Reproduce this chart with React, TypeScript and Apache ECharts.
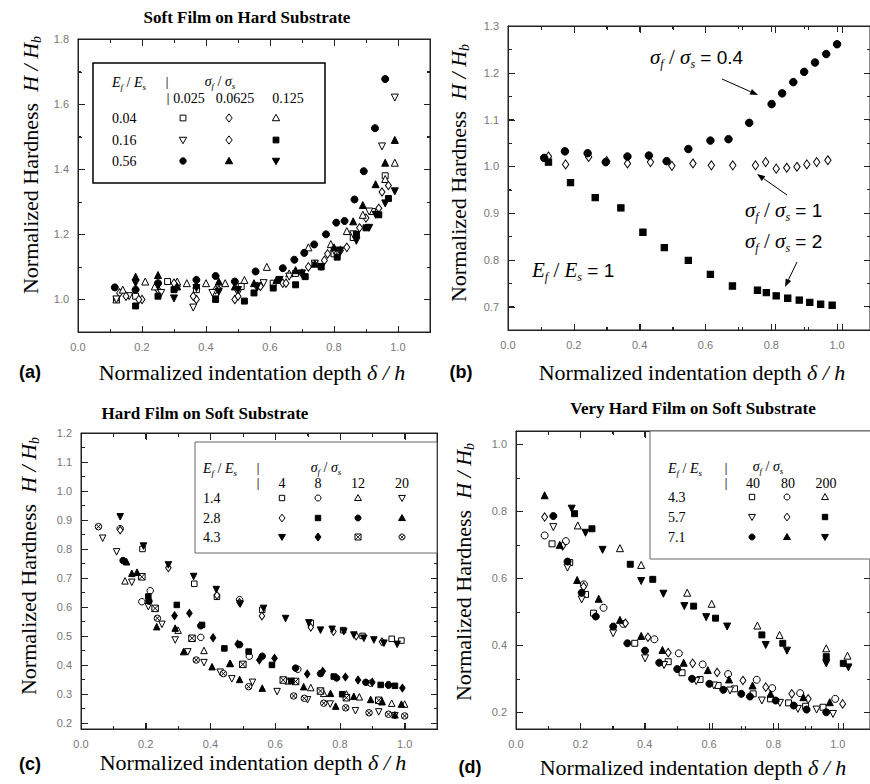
import React, { useEffect, useRef } from 'react';
import * as echarts from 'echarts';

const SERIF = "'Liberation Serif', 'Times New Roman', serif";
const SANS = "'Liberation Sans', Arial, sans-serif";

// ---------- tick values ----------
const xLabels = [0, 0.2, 0.4, 0.6, 0.8, 1.0];
const xMinor = [0.1, 0.3, 0.5, 0.7, 0.9, 1.1];
const aYLabels = [1.0, 1.2, 1.4, 1.6, 1.8];
const aYMinor = [1.1, 1.3, 1.5, 1.7];
const bYLabels = [0.7, 0.8, 0.9, 1.0, 1.1, 1.2, 1.3];
const bYMinor = [0.75, 0.85, 0.95, 1.05, 1.15, 1.25];
const cYLabels = [0.2, 0.3, 0.4, 0.5, 0.6, 0.7, 0.8, 0.9, 1.0, 1.1, 1.2];
const cYMinor = [0.25, 0.35, 0.45, 0.55, 0.65, 0.75, 0.85, 0.95, 1.05, 1.15];
const dYLabels = [0.2, 0.4, 0.6, 0.8, 1.0];
const dYMinor = [0.3, 0.5, 0.7, 0.9];

// ---------- panel (a): soft film on hard substrate ----------
const aSq004_0025 = [[0.12, 1.0], [0.18, 1.01], [0.28, 1.055], [0.37, 1.03], [0.43, 1.02], [0.51, 1.04], [0.61, 1.05], [0.68, 1.08], [0.74, 1.11], [0.8, 1.14], [0.86, 1.19], [0.92, 1.27], [0.96, 1.38]];
const aDia004_00625 = [[0.13, 1.02], [0.2, 1.0], [0.25, 1.03], [0.31, 1.04], [0.37, 1.0], [0.43, 1.03], [0.49, 1.0], [0.56, 1.04], [0.64, 1.05], [0.72, 1.1], [0.78, 1.14], [0.84, 1.16], [0.9, 1.25], [0.95, 1.33]];
const aTri004_0125 = [[0.12, 1.0], [0.14, 1.03], [0.21, 1.055], [0.24, 1.04], [0.31, 1.055], [0.34, 1.05], [0.4, 1.05], [0.46, 1.05], [0.52, 1.06], [0.59, 1.1], [0.66, 1.08], [0.72, 1.16], [0.79, 1.17], [0.84, 1.21], [0.89, 1.26], [0.96, 1.37], [0.99, 1.42]];
const aDtri016_0025 = [[0.12, 1.0], [0.16, 1.01], [0.26, 1.02], [0.36, 0.975], [0.42, 1.02], [0.5, 1.02], [0.58, 1.05], [0.66, 1.07], [0.74, 1.11], [0.8, 1.15], [0.86, 1.2], [0.91, 1.27], [0.95, 1.47], [0.99, 1.62]];
const aDia016_00625 = [[0.15, 1.01], [0.19, 1.0], [0.3, 1.05], [0.36, 1.01], [0.44, 1.03], [0.5, 1.01], [0.57, 1.04], [0.65, 1.05], [0.7, 1.08], [0.77, 1.12], [0.82, 1.15], [0.88, 1.22], [0.94, 1.28], [0.97, 1.35]];
const aSqF016_0125 = [[0.18, 0.98], [0.25, 1.01], [0.3, 1.03], [0.43, 1.0], [0.52, 0.995], [0.55, 1.02], [0.61, 1.035], [0.68, 1.045], [0.71, 1.07], [0.76, 1.1], [0.81, 1.13], [0.87, 1.2], [0.9, 1.22], [0.94, 1.26], [0.97, 1.31]];
const aCiF056_0025 = [[0.115, 1.037], [0.18, 1.03], [0.25, 1.05], [0.37, 1.06], [0.43, 1.072], [0.49, 1.055], [0.555, 1.086], [0.64, 1.096], [0.676, 1.122], [0.707, 1.143], [0.738, 1.169], [0.775, 1.2], [0.807, 1.236], [0.833, 1.241], [0.864, 1.307], [0.893, 1.394], [0.928, 1.526], [0.96, 1.677]];
const aTriF056_00625 = [[0.18, 1.07], [0.25, 1.075], [0.31, 1.04], [0.37, 1.045], [0.44, 1.055], [0.49, 1.04], [0.55, 1.05], [0.62, 1.06], [0.68, 1.09], [0.74, 1.11], [0.8, 1.16], [0.86, 1.24], [0.89, 1.29], [0.93, 1.354], [0.96, 1.42], [0.99, 1.49]];
const aDtriF056_0125 = [[0.18, 1.05], [0.25, 1.04], [0.3, 1.003], [0.37, 1.035], [0.44, 1.024], [0.5, 1.029], [0.56, 1.04], [0.63, 1.06], [0.7, 1.08], [0.76, 1.1], [0.82, 1.15], [0.87, 1.18], [0.91, 1.22], [0.93, 1.26], [0.96, 1.295], [0.99, 1.332]];

// ---------- panel (b): Ef/Es = 1 ----------
const bRatio04 = [[0.11, 1.018], [0.173, 1.032], [0.242, 1.028], [0.297, 1.009], [0.363, 1.021], [0.428, 1.023], [0.482, 1.011], [0.548, 1.037], [0.615, 1.055], [0.67, 1.058], [0.733, 1.093], [0.801, 1.133], [0.833, 1.156], [0.867, 1.18], [0.9, 1.202], [0.933, 1.222], [0.967, 1.24], [1.0, 1.261]];
const bRatio1 = [[0.123, 1.021], [0.175, 1.004], [0.245, 1.02], [0.3, 1.011], [0.363, 1.006], [0.433, 1.009], [0.498, 1.001], [0.562, 1.006], [0.618, 1.002], [0.683, 1.002], [0.752, 1.002], [0.783, 1.009], [0.815, 0.995], [0.847, 0.997], [0.878, 0.999], [0.908, 1.004], [0.938, 1.009], [0.972, 1.013]];
const bRatio2 = [[0.123, 1.009], [0.19, 0.965], [0.265, 0.933], [0.343, 0.911], [0.41, 0.859], [0.475, 0.826], [0.548, 0.799], [0.615, 0.769], [0.682, 0.744], [0.758, 0.735], [0.785, 0.73], [0.815, 0.723], [0.85, 0.718], [0.885, 0.714], [0.917, 0.709], [0.95, 0.705], [0.985, 0.703]];

// ---------- panel (c): hard film on soft substrate ----------
const cSq14_4 = [[0.19, 0.8], [0.35, 0.68], [0.42, 0.635], [0.56, 0.59], [0.71, 0.545], [0.81, 0.52], [0.87, 0.5], [0.96, 0.49], [0.99, 0.484]];
const cCi14_8 = [[0.121, 0.87], [0.214, 0.656], [0.188, 0.618], [0.37, 0.495], [0.49, 0.625], [0.52, 0.43], [0.67, 0.385], [0.895, 0.337], [0.95, 0.332]];
const cTri14_12 = [[0.136, 0.69], [0.3, 0.52], [0.38, 0.45], [0.46, 0.405], [0.64, 0.345], [0.71, 0.322], [0.75, 0.302], [0.82, 0.3], [0.86, 0.29], [0.93, 0.275], [0.96, 0.268], [1.0, 0.265]];
const cDtri14_20 = [[0.067, 0.837], [0.11, 0.79], [0.157, 0.685], [0.208, 0.601], [0.25, 0.54], [0.291, 0.486], [0.33, 0.445], [0.38, 0.408], [0.43, 0.375], [0.466, 0.352], [0.53, 0.34], [0.606, 0.308], [0.7, 0.28], [0.77, 0.265], [0.848, 0.242], [0.92, 0.238], [0.97, 0.225]];
const cDia28_4 = [[0.121, 0.865], [0.27, 0.735], [0.42, 0.64], [0.49, 0.615], [0.559, 0.569], [0.71, 0.53], [0.78, 0.515], [0.85, 0.5], [0.93, 0.48]];
const cSqF28_8 = [[0.208, 0.636], [0.296, 0.607], [0.374, 0.538], [0.443, 0.457], [0.518, 0.446], [0.59, 0.4], [0.65, 0.345], [0.781, 0.36], [0.807, 0.299], [0.926, 0.331], [0.97, 0.328]];
const cCiF28_12 = [[0.13, 0.76], [0.21, 0.62], [0.37, 0.535], [0.49, 0.47], [0.56, 0.43], [0.663, 0.389], [0.74, 0.37], [0.79, 0.355], [0.88, 0.34], [0.95, 0.33]];
const cTriF28_20 = [[0.141, 0.756], [0.157, 0.716], [0.173, 0.72], [0.234, 0.532], [0.291, 0.527], [0.317, 0.446], [0.405, 0.394], [0.461, 0.406], [0.49, 0.35], [0.56, 0.32], [0.688, 0.325], [0.771, 0.302], [0.787, 0.258], [0.843, 0.292], [0.895, 0.281], [0.93, 0.273], [0.97, 0.228], [0.99, 0.265]];
const cDtriF43_4 = [[0.121, 0.911], [0.193, 0.81], [0.27, 0.745], [0.348, 0.705], [0.418, 0.66], [0.492, 0.61], [0.564, 0.595], [0.632, 0.56], [0.704, 0.545], [0.74, 0.52], [0.776, 0.523], [0.812, 0.515], [0.843, 0.503], [0.874, 0.492], [0.905, 0.486], [0.936, 0.475], [0.977, 0.471]];
const cDiaF43_8 = [[0.289, 0.57], [0.335, 0.578], [0.408, 0.494], [0.484, 0.472], [0.551, 0.417], [0.598, 0.423], [0.699, 0.369], [0.747, 0.378], [0.817, 0.358], [0.856, 0.348], [0.9, 0.34], [0.993, 0.32]];
const cXsq43_12 = [[0.188, 0.704], [0.229, 0.595], [0.343, 0.492], [0.5, 0.402], [0.625, 0.348], [0.663, 0.343], [0.74, 0.31], [0.82, 0.287], [0.92, 0.278]];
const cXci43_20 = [[0.054, 0.877], [0.236, 0.561], [0.356, 0.417], [0.44, 0.37], [0.518, 0.325], [0.657, 0.293], [0.69, 0.285], [0.75, 0.268], [0.818, 0.252], [0.89, 0.235], [0.95, 0.23], [1.0, 0.224]];

// ---------- panel (d): very hard film on soft substrate ----------
const dSq43_40 = [[0.112, 0.703], [0.167, 0.647], [0.216, 0.552], [0.241, 0.496], [0.369, 0.406], [0.473, 0.351], [0.516, 0.318], [0.572, 0.298], [0.628, 0.28], [0.679, 0.27], [0.737, 0.255], [0.791, 0.24], [0.847, 0.228], [0.9, 0.218], [0.954, 0.215]];
const dCi43_80 = [[0.089, 0.728], [0.155, 0.711], [0.211, 0.582], [0.272, 0.512], [0.333, 0.464], [0.43, 0.418], [0.506, 0.376], [0.58, 0.343], [0.659, 0.314], [0.748, 0.297], [0.796, 0.272], [0.883, 0.257], [0.992, 0.24]];
const dTri43_200 = [[0.192, 0.758], [0.323, 0.69], [0.389, 0.64], [0.532, 0.557], [0.608, 0.524], [0.75, 0.459], [0.819, 0.431], [0.964, 0.391], [1.03, 0.369]];
const dDtri57_40 = [[0.116, 0.753], [0.16, 0.632], [0.204, 0.537], [0.302, 0.436], [0.401, 0.361], [0.46, 0.341], [0.56, 0.293], [0.615, 0.28], [0.665, 0.265], [0.764, 0.235], [0.82, 0.228], [0.876, 0.21], [0.934, 0.208], [0.985, 0.195]];
const dDia57_80 = [[0.089, 0.783], [0.145, 0.697], [0.21, 0.575], [0.34, 0.466], [0.41, 0.424], [0.473, 0.378], [0.549, 0.346], [0.625, 0.319], [0.705, 0.295], [0.776, 0.275], [0.857, 0.255], [0.908, 0.24], [1.015, 0.225]];
const dSqF57_200 = [[0.182, 0.793], [0.236, 0.748], [0.355, 0.642], [0.425, 0.597], [0.552, 0.517], [0.62, 0.481], [0.764, 0.431], [0.829, 0.406], [0.964, 0.366], [1.017, 0.346]];
const dCiF71_40 = [[0.116, 0.786], [0.16, 0.65], [0.204, 0.557], [0.248, 0.486], [0.302, 0.456], [0.346, 0.406], [0.401, 0.384], [0.445, 0.348], [0.501, 0.329], [0.547, 0.3], [0.601, 0.285], [0.644, 0.267], [0.7, 0.255], [0.727, 0.247], [0.807, 0.235], [0.863, 0.22], [0.903, 0.208], [0.964, 0.2]];
const dTriF71_80 = [[0.089, 0.848], [0.136, 0.7], [0.19, 0.595], [0.257, 0.539], [0.323, 0.476], [0.389, 0.428], [0.455, 0.386], [0.521, 0.348], [0.596, 0.326], [0.662, 0.298], [0.735, 0.28], [0.791, 0.255], [0.893, 0.245], [0.975, 0.23]];
const dDtriF71_200 = [[0.173, 0.808], [0.216, 0.736], [0.269, 0.685], [0.389, 0.592], [0.458, 0.554], [0.523, 0.517], [0.591, 0.484], [0.656, 0.456], [0.776, 0.401], [0.842, 0.384], [0.964, 0.346], [1.033, 0.334]];

// ---------- symbols ----------
const SYM: Record<string, string> = {
  sq: 'rect',
  ci: 'circle',
  tri: 'triangle',
  dtri: 'triangle',
  dia: 'diamond',
  xsq: 'path://M0 0H10V10H0Z M0 0L10 10 M10 0L0 10',
  xci: 'path://M10 5A5 5 0 1 1 0 5A5 5 0 1 1 10 5Z M1.6 1.6L8.4 8.4 M8.4 1.6L1.6 8.4',
};

function scatter(data: number[][], kind: string, filled: boolean, size: number) {
  let symbolSize: any = size;
  if (kind === 'dia') symbolSize = [size * 0.85, size * 1.2];
  if (kind === 'sq') symbolSize = size * 0.85;
  return {
    type: 'scatter',
    xAxisIndex: 0,
    yAxisIndex: 0,
    data,
    symbol: SYM[kind],
    symbolRotate: kind === 'dtri' ? 180 : 0,
    symbolSize,
    itemStyle: { color: filled ? '#000' : '#fff', borderColor: '#000', borderWidth: 1, opacity: 1 },
  };
}

function mkAxis(pos: string, min: number, max: number, ticks: number[], len: number, labels: number[] | null, lineShow: boolean) {
  return {
    type: 'value',
    gridIndex: 0,
    position: pos,
    min,
    max,
    axisLine: { show: lineShow, onZero: false, lineStyle: { color: '#222', width: 1 } },
    axisTick: { show: true, inside: true, length: len, customValues: ticks, lineStyle: { color: '#222', width: 1 } },
    axisLabel: labels
      ? { show: true, customValues: labels, formatter: (v: number) => v.toFixed(1), color: '#777', fontSize: 11, fontFamily: SANS, margin: 9 }
      : { show: false },
    splitLine: { show: false },
  };
}

const PANELS = [
  {
    grid: { left: 78, top: 39, width: 352, height: 293 },
    y: { min: 0.9, max: 1.8, labels: aYLabels, minor: aYMinor },
    series: [
      scatter(aSq004_0025, 'sq', false, 7),
      scatter(aDia004_00625, 'dia', false, 7),
      scatter(aTri004_0125, 'tri', false, 7),
      scatter(aDtri016_0025, 'dtri', false, 7),
      scatter(aDia016_00625, 'dia', false, 7),
      scatter(aSqF016_0125, 'sq', true, 7),
      scatter(aCiF056_0025, 'ci', true, 7),
      scatter(aTriF056_00625, 'tri', true, 7),
      scatter(aDtriF056_0125, 'dtri', true, 7),
    ],
  },
  {
    grid: { left: 508, top: 26, width: 367, height: 304 },
    y: { min: 0.65, max: 1.3, labels: bYLabels, minor: bYMinor },
    series: [
      scatter(bRatio1, 'dia', false, 7.5),
      scatter(bRatio2, 'sq', true, 7.5),
      scatter(bRatio04, 'ci', true, 7.5),
    ],
  },
  {
    grid: { left: 81, top: 433, width: 356, height: 296 },
    y: { min: 0.179, max: 1.2, labels: cYLabels, minor: cYMinor },
    series: [
      scatter(cSq14_4, 'sq', false, 6.5),
      scatter(cCi14_8, 'ci', false, 6.5),
      scatter(cTri14_12, 'tri', false, 6.5),
      scatter(cDtri14_20, 'dtri', false, 6.5),
      scatter(cDia28_4, 'dia', false, 6.5),
      scatter(cXsq43_12, 'xsq', false, 6.5),
      scatter(cXci43_20, 'xci', false, 6.5),
      scatter(cSqF28_8, 'sq', true, 6.5),
      scatter(cCiF28_12, 'ci', true, 6.5),
      scatter(cTriF28_20, 'tri', true, 6.5),
      scatter(cDtriF43_4, 'dtri', true, 6.5),
      scatter(cDiaF43_8, 'dia', true, 6.5),
    ],
  },
  {
    grid: { left: 516, top: 431, width: 360, height: 298 },
    y: { min: 0.15, max: 1.04, labels: dYLabels, minor: dYMinor },
    series: [
      scatter(dSq43_40, 'sq', false, 7),
      scatter(dCi43_80, 'ci', false, 7),
      scatter(dTri43_200, 'tri', false, 7),
      scatter(dDtri57_40, 'dtri', false, 7),
      scatter(dDia57_80, 'dia', false, 7),
      scatter(dSqF57_200, 'sq', true, 7),
      scatter(dCiF71_40, 'ci', true, 7),
      scatter(dTriF71_80, 'tri', true, 7),
      scatter(dDtriF71_200, 'dtri', true, 7),
    ],
  },
];

function panelOption(i: number) {
  const p = PANELS[i];
  const yd = p.y;
  return {
    animation: false,
    grid: [{ ...p.grid, show: true, borderColor: '#222', borderWidth: 1, backgroundColor: 'transparent' }],
    xAxis: [
      mkAxis('bottom', 0, 1.1, xLabels, 6, xLabels, true),
      mkAxis('bottom', 0, 1.1, xMinor, 3, null, false),
      mkAxis('top', 0, 1.1, xLabels, 6, null, true),
      mkAxis('top', 0, 1.1, xMinor, 3, null, false),
    ],
    yAxis: [
      mkAxis('left', yd.min, yd.max, yd.labels, 6, yd.labels, true),
      mkAxis('left', yd.min, yd.max, yd.minor, 3, null, false),
      mkAxis('right', yd.min, yd.max, yd.labels, 6, null, true),
      mkAxis('right', yd.min, yd.max, yd.minor, 3, null, false),
    ],
    series: p.series,
  };
}

// frame and inward ticks as thin filled bars, placed through the panel's own axis scales
function frameElements(chart: any, i: number) {
  const p = PANELS[i];
  const yd = p.y;
  const gr = p.grid;
  const manual = (x: number, y: number) => [gr.left + (x / 1.1) * gr.width, gr.top + ((yd.max - y) / (yd.max - yd.min)) * gr.height];
  const px = (x: number, y: number): number[] => {
    try {
      const r = chart.convertToPixel({ xAxisIndex: 0, yAxisIndex: 0 }, [x, y]);
      if (r && isFinite(r[0]) && isFinite(r[1]) && Math.abs(r[0] - manual(x, y)[0]) < 3 && Math.abs(r[1] - manual(x, y)[1]) < 3) return r;
    } catch (e) {
      // fall through
    }
    return manual(x, y);
  };
  const bl = px(0, yd.min);
  const tr = px(1.1, yd.max);
  const L = Math.round(bl[0]), B = Math.round(bl[1]), R = Math.round(tr[0]), T = Math.round(tr[1]);
  const fill = { fill: '#222' };
  const bar = (x: number, y: number, w: number, h: number) => ({ type: 'rect', z: 50, shape: { x, y, width: w, height: h }, style: { ...fill } });
  const els: any[] = [
    bar(L, B, R - L + 1, 1),
    bar(L, T, R - L + 1, 1),
    bar(L, T, 1, B - T + 1),
    bar(R, T, 1, B - T + 1),
  ];
  const xt: [number, number][] = [...xLabels.map((v) => [v, 6] as [number, number]), ...xMinor.map((v) => [v, 3] as [number, number])];
  xt.forEach(([v, len]) => {
    const X = Math.round(px(v, yd.min)[0]);
    els.push(bar(X, B - len, 1, len));
    els.push(bar(X, T + 1, 1, len));
  });
  const yt: [number, number][] = [...yd.labels.map((v) => [v, 6] as [number, number]), ...yd.minor.map((v) => [v, 3] as [number, number])];
  yt.forEach(([v, len]) => {
    const Y = Math.round(px(0, v)[1]);
    els.push(bar(L + 1, Y, len, 1));
    els.push(bar(R - len, Y, len, 1));
  });
  return els;
}

function gSym(kind: string, filled: boolean, cx: number, cy: number, r = 3.2): any[] {
  const style = () => ({ fill: filled ? '#000' : '#fff', stroke: '#000', lineWidth: 1 });
  const ls = () => ({ stroke: '#000', lineWidth: 0.8 });
  switch (kind) {
    case 'sq':
      return [{ type: 'rect', shape: { x: cx - r * 0.9, y: cy - r * 0.9, width: r * 1.8, height: r * 1.8 }, style: style() }];
    case 'ci':
      return [{ type: 'circle', shape: { cx, cy, r }, style: style() }];
    case 'tri':
      return [{ type: 'polygon', shape: { points: [[cx, cy - r * 1.15], [cx + r * 1.15, cy + r * 0.85], [cx - r * 1.15, cy + r * 0.85]] }, style: style() }];
    case 'dtri':
      return [{ type: 'polygon', shape: { points: [[cx, cy + r * 1.15], [cx + r * 1.15, cy - r * 0.85], [cx - r * 1.15, cy - r * 0.85]] }, style: style() }];
    case 'dia':
      return [{ type: 'polygon', shape: { points: [[cx, cy - r * 1.3], [cx + r, cy], [cx, cy + r * 1.3], [cx - r, cy]] }, style: style() }];
    case 'xsq':
      return [
        { type: 'rect', shape: { x: cx - r, y: cy - r, width: 2 * r, height: 2 * r }, style: style() },
        { type: 'line', shape: { x1: cx - r, y1: cy - r, x2: cx + r, y2: cy + r }, style: ls() },
        { type: 'line', shape: { x1: cx + r, y1: cy - r, x2: cx - r, y2: cy + r }, style: ls() },
      ];
    case 'xci': {
      const k = r * 0.7;
      return [
        { type: 'circle', shape: { cx, cy, r }, style: style() },
        { type: 'line', shape: { x1: cx - k, y1: cy - k, x2: cx + k, y2: cy + k }, style: ls() },
        { type: 'line', shape: { x1: cx + k, y1: cy - k, x2: cx - k, y2: cy + k }, style: ls() },
      ];
    }
  }
  return [];
}

function txt(x: number, y: number, text: string, extra: any = {}, align = 'left', rotation = 0) {
  return {
    type: 'text',
    x,
    y,
    rotation,
    style: { text, fill: '#000', align, textAlign: align, verticalAlign: 'middle', textVerticalAlign: 'middle', ...extra },
  };
}

const legRich = {
  i: { fontFamily: SERIF, fontStyle: 'italic', fontSize: 14, lineHeight: 18, fill: '#000' },
  s: { fontFamily: SERIF, fontStyle: 'italic', fontSize: 9, lineHeight: 9, verticalAlign: 'bottom', fill: '#000' },
  n: { fontFamily: SERIF, fontSize: 14, lineHeight: 18, fill: '#000' },
};
const titleRich = {
  n: { fontFamily: SERIF, fontSize: 22, lineHeight: 26, fill: '#000' },
  i: { fontFamily: SERIF, fontStyle: 'italic', fontSize: 22, lineHeight: 26, fill: '#000' },
  s: { fontFamily: SERIF, fontStyle: 'italic', fontSize: 14, lineHeight: 14, verticalAlign: 'bottom', fill: '#000' },
};
const annRich = {
  i: { fontFamily: SERIF, fontStyle: 'italic', fontSize: 21, lineHeight: 26, fill: '#000' },
  s: { fontFamily: SERIF, fontStyle: 'italic', fontSize: 12, lineHeight: 12, verticalAlign: 'bottom', fill: '#000' },
  n: { fontFamily: SANS, fontSize: 19, lineHeight: 26, fill: '#000' },
  m: { fontFamily: SERIF, fontSize: 21, lineHeight: 26, fill: '#000' },
};

function arrow(x1: number, y1: number, x2: number, y2: number): any[] {
  const dx = x2 - x1, dy = y2 - y1;
  const L = Math.sqrt(dx * dx + dy * dy);
  const ux = dx / L, uy = dy / L;
  const hl = 8, hw = 3;
  const bx = x2 - ux * hl, by = y2 - uy * hl;
  return [
    { type: 'line', shape: { x1, y1, x2: bx, y2: by }, style: { stroke: '#000', lineWidth: 1 } },
    { type: 'polygon', shape: { points: [[x2, y2], [bx - uy * hw, by + ux * hw], [bx + uy * hw, by - ux * hw]] }, style: { fill: '#000' } },
  ];
}

function overlayElements() {
  const xTitle = '{n|Normalized indentation depth }{i|δ / h}';
  const yTitle = '{n|Normalized Hardness  }{i|H / H}{s|b}';
  const EfEs = '{i|E}{s|f}{n| / }{i|E}{s|s}';
  const sfss = '{i|σ}{s|f}{n| / }{i|σ}{s|s}';
  const legFont = { font: `14px ${SERIF}` };
  const barFont = { font: `12px ${SANS}`, fill: '#444' };
  const titleFont = { font: `bold 17px ${SERIF}` };
  const panelFont = { font: `bold 18px ${SANS}` };

  const g: any[] = [];
  g.push(txt(247, 17, 'Soft Film on Hard Substrate', titleFont, 'center'));
  g.push(txt(205, 413, 'Hard Film on Soft Substrate', titleFont, 'center'));
  g.push(txt(693, 408, 'Very Hard Film on Soft Substrate', titleFont, 'center'));
  g.push(txt(30, 372, '(a)', panelFont, 'center'));
  g.push(txt(461, 372, '(b)', panelFont, 'center'));
  g.push(txt(30, 764, '(c)', panelFont, 'center'));
  g.push(txt(470, 767, '(d)', panelFont, 'center'));
  g.push(txt(252, 372, xTitle, { rich: titleRich }, 'center'));
  g.push(txt(692, 372, xTitle, { rich: titleRich }, 'center'));
  g.push(txt(253, 762, xTitle, { rich: titleRich }, 'center'));
  g.push(txt(693, 767, xTitle, { rich: titleRich }, 'center'));
  g.push(txt(30, 165, yTitle, { rich: titleRich }, 'center', Math.PI / 2));
  g.push(txt(458, 173, yTitle, { rich: titleRich }, 'center', Math.PI / 2));
  g.push(txt(28, 566, yTitle, { rich: titleRich }, 'center', Math.PI / 2));
  g.push(txt(463, 572, yTitle, { rich: titleRich }, 'center', Math.PI / 2));

  // legend (a)
  g.push({ type: 'rect', z: 60, shape: { x: 93, y: 63, width: 232, height: 120 }, style: { fill: '#fff', stroke: '#000', lineWidth: 1.5 } });
  const aTexts: any[] = [];
  aTexts.push(txt(112, 82, EfEs, { rich: legRich }));
  aTexts.push(txt(167, 82, '|', barFont, 'center'));
  aTexts.push(txt(220, 81, sfss, { rich: legRich }, 'center'));
  aTexts.push(txt(168, 98, '|', barFont, 'center'));
  aTexts.push(txt(189, 98, '0.025', legFont, 'center'));
  aTexts.push(txt(235, 98, '0.0625', legFont, 'center'));
  aTexts.push(txt(288, 98, '0.125', legFont, 'center'));
  const aRows = [118, 140, 161];
  const aCols = [183, 229, 276];
  ['0.04', '0.16', '0.56'].forEach((t, i) => aTexts.push(txt(112, aRows[i], t, legFont)));
  const aLeg = [
    [['sq', false], ['dia', false], ['tri', false]],
    [['dtri', false], ['dia', false], ['sq', true]],
    [['ci', true], ['tri', true], ['dtri', true]],
  ];
  aLeg.forEach((row, i) => row.forEach((s: any, j) => aTexts.push(...gSym(s[0], s[1], aCols[j], aRows[i]))));

  // legend (c)
  const cBox = { type: 'rect', z: 60, shape: { x: 195, y: 442, width: 242, height: 111 }, style: { fill: '#fff', stroke: '#666', lineWidth: 1 } };
  const cTexts: any[] = [];
  cTexts.push(txt(203, 468, EfEs, { rich: legRich }));
  cTexts.push(txt(258, 468, '|', barFont, 'center'));
  cTexts.push(txt(326, 467, sfss, { rich: legRich }, 'center'));
  cTexts.push(txt(258, 483, '|', barFont, 'center'));
  const cCols = [282, 318, 358, 402];
  ['4', '8', '12', '20'].forEach((t, j) => cTexts.push(txt(cCols[j], 483, t, legFont, 'center')));
  const cRows = [498, 518, 537];
  ['1.4', '2.8', '4.3'].forEach((t, i) => cTexts.push(txt(203, cRows[i], t, legFont)));
  const cLeg = [
    [['sq', false], ['ci', false], ['tri', false], ['dtri', false]],
    [['dia', false], ['sq', true], ['ci', true], ['tri', true]],
    [['dtri', true], ['dia', true], ['xsq', false], ['xci', false]],
  ];
  cLeg.forEach((row, i) => row.forEach((s: any, j) => cTexts.push(...gSym(s[0], s[1], cCols[j], cRows[i], 3))));

  // legend (d)
  const dBox = { type: 'rect', z: 60, shape: { x: 650, y: 431, width: 240, height: 128 }, style: { fill: '#fff', stroke: '#666', lineWidth: 1 } };
  const dTexts: any[] = [];
  dTexts.push(txt(668, 468, EfEs, { rich: legRich }));
  dTexts.push(txt(726, 468, '|', barFont, 'center'));
  dTexts.push(txt(768, 466, sfss, { rich: legRich }, 'center'));
  dTexts.push(txt(726, 483, '|', barFont, 'center'));
  const dCols = [753, 788, 826];
  ['40', '80', '200'].forEach((t, j) => dTexts.push(txt(dCols[j], 483, t, legFont, 'center')));
  const dRows = [497, 517, 537];
  ['4.3', '5.7', '7.1'].forEach((t, i) => dTexts.push(txt(668, dRows[i], t, legFont)));
  const dLeg = [
    [['sq', false], ['ci', false], ['tri', false]],
    [['dtri', false], ['dia', false], ['sq', true]],
    [['ci', true], ['tri', true], ['dtri', true]],
  ];
  dLeg.forEach((row, i) => row.forEach((s: any, j) => dTexts.push(...gSym(s[0], s[1], dCols[j] - 1, dRows[i], 3))));

  g.push(cBox, dBox);
  [...aTexts, ...cTexts, ...dTexts].forEach((e) => g.push({ ...e, z: 70 }));

  // annotations (b)
  g.push(txt(650, 57, '{i|σ}{s|f}{m| / }{i|σ}{s|s}{n| = 0.4}', { rich: annRich }));
  g.push(txt(745, 210, '{i|σ}{s|f}{m| / }{i|σ}{s|s}{n| = 1}', { rich: annRich }));
  g.push(txt(745, 241, '{i|σ}{s|f}{m| / }{i|σ}{s|s}{n| = 2}', { rich: annRich }));
  g.push(txt(532, 270, '{i|E}{s|f}{m| / }{i|E}{s|s}{n| = 1}', { rich: annRich }));
  g.push(...arrow(722, 79, 758, 95));
  g.push(...arrow(787, 195, 757, 174));
  g.push(...arrow(797, 262, 785, 287));
  return g;
}

const layerStyle: React.CSSProperties = { position: 'absolute', left: 0, top: 0, width: 870, height: 784 };

export default function App() {
  const r0 = useRef<HTMLDivElement>(null);
  const r1 = useRef<HTMLDivElement>(null);
  const r2 = useRef<HTMLDivElement>(null);
  const r3 = useRef<HTMLDivElement>(null);
  const rO = useRef<HTMLDivElement>(null);
  useEffect(() => {
    document.body.style.margin = '0';
    const refs = [r0, r1, r2, r3];
    const charts: any[] = [];
    const frames: any[] = [];
    refs.forEach((r, i) => {
      if (!r.current) return;
      const c = echarts.init(r.current, undefined, { renderer: 'svg' });
      c.setOption(panelOption(i) as any);
      charts.push(c);
      frames.push(...frameElements(c, i));
    });
    let overlay: any = null;
    if (rO.current) {
      overlay = echarts.init(rO.current, undefined, { renderer: 'svg' });
      overlay.setOption({ animation: false, graphic: { elements: [...frames, ...overlayElements()] } } as any);
    }
    return () => {
      charts.forEach((c) => c.dispose());
      if (overlay) overlay.dispose();
    };
  }, []);
  return (
    <div style={{ position: 'relative', width: 870, height: 784, background: '#fff', overflow: 'hidden' }}>
      <div ref={r0} style={layerStyle} />
      <div ref={r1} style={layerStyle} />
      <div ref={r2} style={layerStyle} />
      <div ref={r3} style={layerStyle} />
      <div ref={rO} style={{ ...layerStyle, pointerEvents: 'none' }} />
    </div>
  );
}
